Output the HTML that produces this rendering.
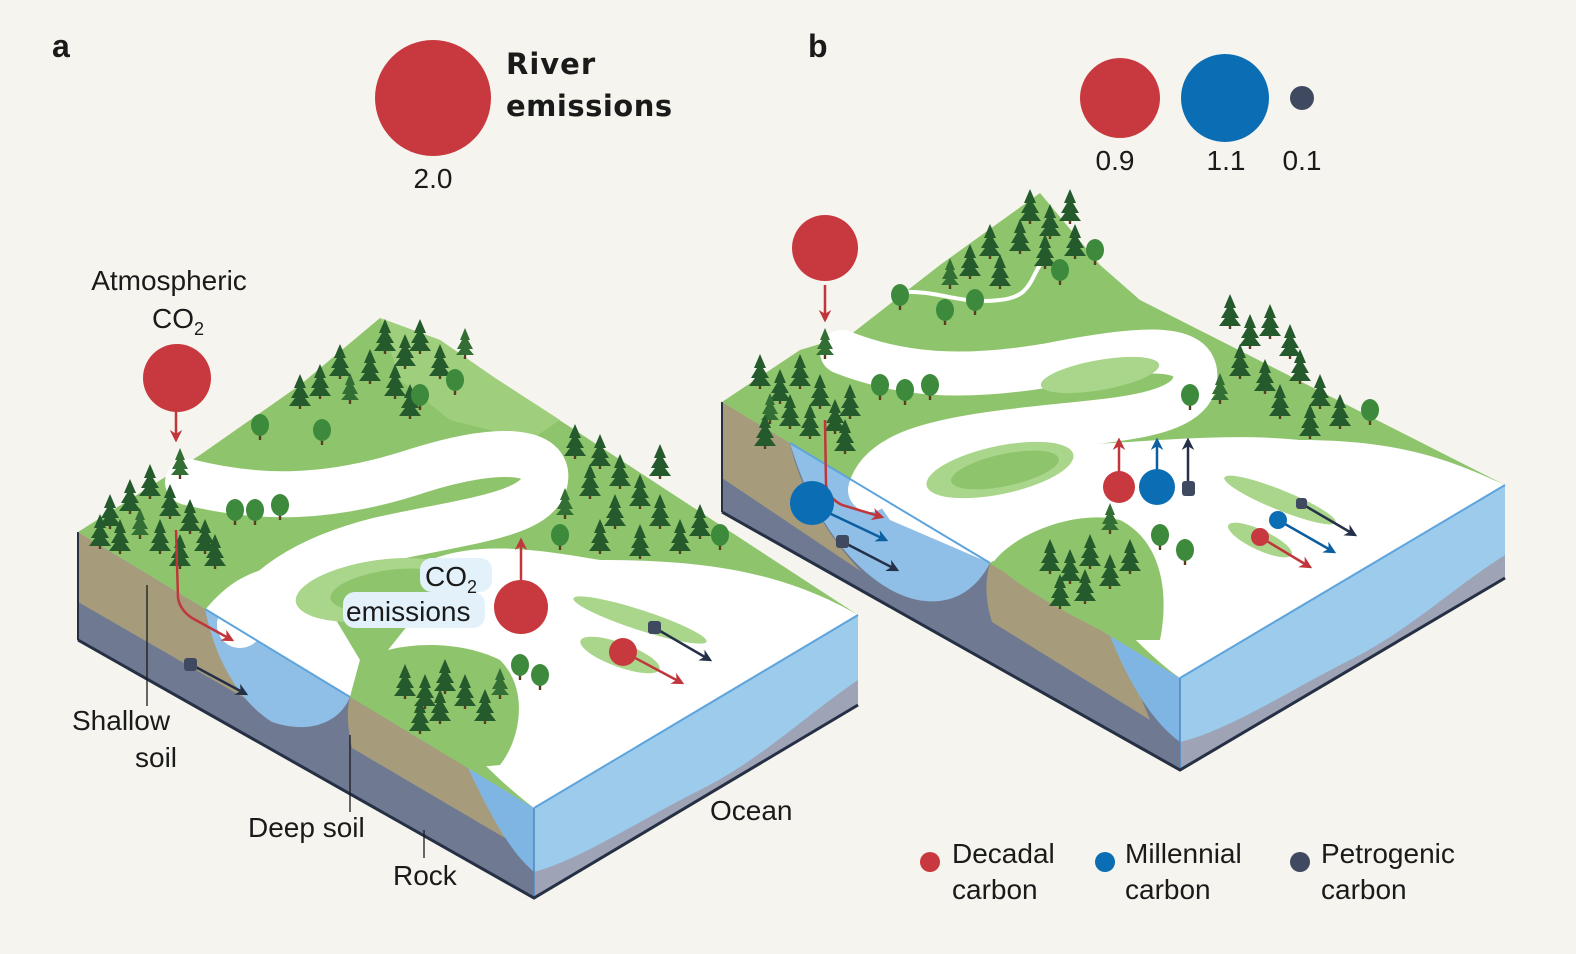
<!DOCTYPE html>
<html><head><meta charset="utf-8"><style>
html,body{margin:0;padding:0;background:#f5f4ee;}
svg{display:block;}
text{font-family:"Liberation Sans",sans-serif;fill:#1a1a1a;}
</style></head><body>
<svg width="1576" height="954" viewBox="0 0 1576 954" xmlns="http://www.w3.org/2000/svg">
<defs>
<g id="pine"><rect x="-1.2" y="0" width="2.4" height="9" fill="#5a3b22"/><polygon points="0,-26 -6,-12 -3,-12 -9,-2 -5,-2 -11,6 11,6 5,-2 9,-2 3,-12 6,-12" fill="#245a2c"/></g>
<g id="pine2"><rect x="-1.2" y="0" width="2.4" height="9" fill="#5a3b22"/><polygon points="0,-22 -5,-10 -3,-10 -8,-1 -4,-1 -9,5 9,5 4,-1 8,-1 3,-10 5,-10" fill="#336e34"/></g>
<g id="dec"><rect x="-1.2" y="0" width="2.4" height="10" fill="#5a3b22"/><ellipse cx="0" cy="-5" rx="9" ry="11" fill="#3d8a3c"/></g>
<marker id="ar" viewBox="0 0 10 10" refX="8" refY="5" markerWidth="5" markerHeight="5" orient="auto"><path d="M0,0 L10,5 L0,10 L3,5 Z" fill="#c0363b"/></marker>
<marker id="ab" viewBox="0 0 10 10" refX="8" refY="5" markerWidth="5" markerHeight="5" orient="auto"><path d="M0,0 L10,5 L0,10 L3,5 Z" fill="#0b5fa0"/></marker>
<marker id="ad" viewBox="0 0 10 10" refX="8" refY="5" markerWidth="5" markerHeight="5" orient="auto"><path d="M0,0 L10,5 L0,10 L3,5 Z" fill="#243048"/></marker>
</defs>

<!-- ============ BLOCK A ============ -->
<polygon points="78,532 534,808 534,898 78,640" fill="#6f7a92"/>
<path d="M78,532 L205,609 C215,660 240,690 262,708 L78,602 Z" fill="#a69c7c"/>
<path d="M205,609 L350,697 C340,722 310,735 272,722 C240,702 215,660 205,609 Z" fill="#8fbfe6"/>
<path d="M350,697 L468,768 C488,800 498,820 505,838 L352,748 C348,730 346,712 350,697 Z" fill="#a69c7c"/>
<path d="M468,768 L534,808 L534,872 C508,850 488,810 468,768 Z" fill="#7fb5e3"/>
<polygon points="534,808 858,615 858,705 534,898" fill="#9ccbec"/>
<path d="M534,872 C580,860 640,820 700,790 C760,760 800,720 858,680 L858,705 L534,898 Z" fill="#9ea3b6"/>
<line x1="534" y1="808" x2="534" y2="898" stroke="#4a86c2" stroke-width="1.5"/>
<polyline points="78,640 534,898 858,705" fill="none" stroke="#263044" stroke-width="3"/>
<line x1="78" y1="532" x2="78" y2="640" stroke="#263044" stroke-width="2"/>
<polygon points="78,532 200,455 300,385 380,318 440,340 495,378 858,615 534,808" fill="#8ec56c"/>
<path d="M380,318 L440,340 495,378 560,420 530,440 450,420 400,380 Z" fill="#9fcf7d"/>
<path d="M188,482 C260,500 330,500 420,470 C500,445 550,450 545,480 C540,515 470,520 380,540 C300,560 265,590 240,625" fill="none" stroke="#ffffff" stroke-width="46" stroke-linecap="round"/>
<path d="M430,560 C480,540 540,550 600,560 C700,560 780,570 858,615 L534,808 C510,790 490,770 480,760 C460,720 420,680 380,660 L420,610 Z" fill="#ffffff"/>
<path d="M205,610 C230,580 250,570 300,560 L360,660 L350,697 Z" fill="#ffffff"/>
<ellipse cx="380" cy="590" rx="85" ry="30" fill="#a9d68a" transform="rotate(-8 380 590)"/>
<ellipse cx="390" cy="590" rx="60" ry="20" fill="#8ec56c" transform="rotate(-8 390 590)"/>
<path d="M360,660 C400,640 460,640 500,660 C530,690 520,740 500,765 L468,768 L350,697 Z" fill="#8ec56c"/>
<ellipse cx="640" cy="620" rx="70" ry="10" fill="#a9d68a" transform="rotate(18 640 620)"/>
<ellipse cx="620" cy="655" rx="42" ry="12" fill="#a9d68a" transform="rotate(20 620 655)"/>
<line x1="534" y1="808" x2="858" y2="615" stroke="#5ea4dc" stroke-width="2"/>
<line x1="205" y1="609" x2="350" y2="697" stroke="#5ea4dc" stroke-width="2"/>
<!-- trees A -->
<use href="#pine" x="110" y="520"/><use href="#pine" x="130" y="505"/><use href="#pine" x="150" y="490"/><use href="#pine" x="170" y="510"/><use href="#pine" x="190" y="525"/><use href="#pine2" x="140" y="530"/><use href="#pine" x="160" y="545"/><use href="#pine" x="205" y="545"/><use href="#pine2" x="180" y="470"/><use href="#pine" x="120" y="545"/><use href="#pine" x="180" y="560"/><use href="#pine" x="215" y="560"/><use href="#pine" x="100" y="540"/><use href="#dec" x="235" y="515"/><use href="#dec" x="255" y="515"/><use href="#dec" x="280" y="510"/>
<use href="#pine" x="385" y="345"/><use href="#pine" x="405" y="360"/><use href="#pine" x="420" y="345"/><use href="#pine" x="370" y="375"/><use href="#pine" x="395" y="390"/><use href="#pine" x="440" y="370"/><use href="#pine2" x="350" y="395"/><use href="#pine" x="320" y="390"/><use href="#pine" x="300" y="400"/><use href="#pine" x="340" y="370"/><use href="#pine" x="410" y="410"/><use href="#dec" x="455" y="385"/><use href="#dec" x="420" y="400"/><use href="#dec" x="260" y="430"/><use href="#dec" x="322" y="435"/><use href="#pine2" x="465" y="350"/>
<use href="#pine" x="575" y="450"/><use href="#pine" x="600" y="460"/><use href="#pine" x="620" y="480"/><use href="#pine" x="590" y="490"/><use href="#pine" x="640" y="500"/><use href="#pine" x="660" y="520"/><use href="#pine" x="615" y="520"/><use href="#pine" x="680" y="545"/><use href="#pine" x="640" y="550"/><use href="#pine2" x="565" y="510"/><use href="#pine" x="700" y="530"/><use href="#pine" x="600" y="545"/><use href="#pine" x="660" y="470"/><use href="#dec" x="720" y="540"/><use href="#dec" x="560" y="540"/>
<use href="#pine" x="405" y="690"/><use href="#pine" x="425" y="700"/><use href="#pine" x="445" y="685"/><use href="#pine" x="465" y="700"/><use href="#pine" x="485" y="715"/><use href="#pine" x="440" y="715"/><use href="#pine" x="420" y="725"/><use href="#pine2" x="500" y="690"/><use href="#dec" x="520" y="670"/><use href="#dec" x="540" y="680"/>
<!-- arrows A -->
<path d="M176,530 L178,598 Q180,610 192,618 L232,640" fill="none" stroke="#c0363b" stroke-width="2.5" marker-end="url(#ar)"/>
<line x1="192" y1="665" x2="246" y2="694" stroke="#243048" stroke-width="2.5" marker-end="url(#ad)"/>
<rect x="184" y="658" width="13" height="13" rx="3" fill="#3f4a60"/>
<line x1="655" y1="628" x2="710" y2="660" stroke="#243048" stroke-width="2.5" marker-end="url(#ad)"/>
<rect x="648" y="621" width="13" height="13" rx="3" fill="#3f4a60"/>
<line x1="624" y1="652" x2="682" y2="683" stroke="#c0363b" stroke-width="2.5" marker-end="url(#ar)"/>
<circle cx="623" cy="652" r="14" fill="#c8393f"/>
<line x1="521" y1="580" x2="521" y2="540" stroke="#c0363b" stroke-width="2.5" marker-end="url(#ar)"/>
<circle cx="521" cy="607" r="27" fill="#c8393f"/>
<line x1="176" y1="405" x2="176" y2="440" stroke="#c0363b" stroke-width="2.5" marker-end="url(#ar)"/>
<circle cx="177" cy="378" r="34" fill="#c8393f"/>
<rect x="420" y="558" width="72" height="34" rx="12" fill="#e3f1fb"/>
<rect x="343" y="592" width="142" height="36" rx="12" fill="#e3f1fb"/>
<text x="425" y="586" font-size="28">CO<tspan font-size="18" dy="7">2</tspan></text>
<text x="346" y="621" font-size="28">emissions</text>

<!-- ============ BLOCK B ============ -->
<polygon points="722,402 1180,678 1180,770 722,512" fill="#6f7a92"/>
<path d="M722,402 L790,443 C800,490 830,540 862,572 L722,478 Z" fill="#a69c7c"/>
<path d="M790,443 L990,563 C975,592 950,606 918,600 C868,590 815,530 790,443 Z" fill="#8fbfe6"/>
<path d="M990,563 L1110,636 C1130,670 1140,695 1150,720 L992,622 C985,600 985,580 990,563 Z" fill="#a69c7c"/>
<path d="M1110,636 L1180,678 L1180,742 C1150,720 1128,680 1110,636 Z" fill="#7fb5e3"/>
<polygon points="1180,678 1505,485 1505,578 1180,770" fill="#9ccbec"/>
<path d="M1180,742 C1230,730 1290,690 1350,660 C1410,630 1450,590 1505,555 L1505,578 L1180,770 Z" fill="#9ea3b6"/>
<line x1="1180" y1="678" x2="1180" y2="770" stroke="#4a86c2" stroke-width="1.5"/>
<polyline points="722,512 1180,770 1505,578" fill="none" stroke="#263044" stroke-width="3"/>
<line x1="722" y1="402" x2="722" y2="512" stroke="#263044" stroke-width="2"/>
<polygon points="722,402 800,350 850,335 940,265 1040,193 1100,265 1140,300 1505,485 1180,678" fill="#8ec56c"/>
<path d="M842,352 C900,375 960,380 1050,365 C1150,345 1200,345 1195,380 C1190,420 1100,420 1020,430 C930,440 880,455 870,490" fill="none" stroke="#ffffff" stroke-width="44" stroke-linecap="round"/>
<path d="M850,480 C880,445 930,440 1000,445 C1100,450 1200,430 1300,440 C1400,440 1450,460 1505,485 L1180,678 C1140,650 1110,610 1070,575 C1030,560 1000,555 990,563 Z" fill="#ffffff"/>
<path d="M855,470 L990,563 L890,520 Z" fill="#ffffff"/>
<ellipse cx="1000" cy="470" rx="75" ry="24" fill="#a9d68a" transform="rotate(-12 1000 470)"/>
<ellipse cx="1005" cy="470" rx="55" ry="16" fill="#8ec56c" transform="rotate(-12 1005 470)"/>
<ellipse cx="1100" cy="375" rx="60" ry="15" fill="#a9d68a" transform="rotate(-10 1100 375)"/>
<path d="M995,560 C1020,530 1080,510 1120,520 C1160,540 1170,590 1160,640 L1120,640 C1080,620 1020,590 995,563 Z" fill="#8ec56c"/>
<ellipse cx="1280" cy="500" rx="60" ry="10" fill="#a9d68a" transform="rotate(22 1280 500)"/>
<ellipse cx="1260" cy="540" rx="35" ry="10" fill="#a9d68a" transform="rotate(25 1260 540)"/>
<path d="M900,292 C940,290 960,305 1000,300 C1030,297 1030,280 1040,265" fill="none" stroke="#ffffff" stroke-width="4"/>
<line x1="1180" y1="678" x2="1505" y2="485" stroke="#5ea4dc" stroke-width="2"/>
<line x1="790" y1="443" x2="990" y2="563" stroke="#5ea4dc" stroke-width="2"/>
<!-- trees B -->
<use href="#pine" x="760" y="380"/><use href="#pine" x="780" y="395"/><use href="#pine" x="800" y="380"/><use href="#pine" x="820" y="400"/><use href="#pine" x="790" y="420"/><use href="#pine" x="810" y="430"/><use href="#pine" x="835" y="425"/><use href="#pine2" x="770" y="415"/><use href="#pine" x="850" y="410"/><use href="#pine" x="765" y="440"/><use href="#pine" x="845" y="445"/><use href="#pine2" x="825" y="350"/><use href="#dec" x="880" y="390"/><use href="#dec" x="905" y="395"/><use href="#dec" x="930" y="390"/>
<use href="#pine" x="1030" y="215"/><use href="#pine" x="1050" y="230"/><use href="#pine" x="1070" y="215"/><use href="#pine" x="1020" y="245"/><use href="#pine" x="1045" y="260"/><use href="#pine" x="1075" y="250"/><use href="#pine" x="990" y="250"/><use href="#pine" x="970" y="270"/><use href="#pine2" x="950" y="280"/><use href="#pine" x="1000" y="280"/><use href="#dec" x="1095" y="255"/><use href="#dec" x="1060" y="275"/><use href="#dec" x="900" y="300"/><use href="#dec" x="945" y="315"/><use href="#dec" x="975" y="305"/>
<use href="#pine" x="1230" y="320"/><use href="#pine" x="1250" y="340"/><use href="#pine" x="1270" y="330"/><use href="#pine" x="1290" y="350"/><use href="#pine" x="1240" y="370"/><use href="#pine" x="1265" y="385"/><use href="#pine" x="1300" y="375"/><use href="#pine" x="1320" y="400"/><use href="#pine" x="1280" y="410"/><use href="#pine" x="1340" y="420"/><use href="#pine" x="1310" y="430"/><use href="#pine2" x="1220" y="395"/><use href="#dec" x="1370" y="415"/><use href="#dec" x="1190" y="400"/>
<use href="#pine" x="1050" y="565"/><use href="#pine" x="1070" y="575"/><use href="#pine" x="1090" y="560"/><use href="#pine" x="1110" y="580"/><use href="#pine" x="1130" y="565"/><use href="#pine" x="1085" y="595"/><use href="#pine" x="1060" y="600"/><use href="#pine2" x="1110" y="525"/><use href="#dec" x="1160" y="540"/><use href="#dec" x="1185" y="555"/>
<!-- arrows B -->
<path d="M825,420 L826,485 Q828,498 842,505 L882,517" fill="none" stroke="#c0363b" stroke-width="2.5" marker-end="url(#ar)"/>
<line x1="812" y1="505" x2="886" y2="540" stroke="#0b5fa0" stroke-width="2.5" marker-end="url(#ab)"/>
<circle cx="812" cy="503" r="22" fill="#0b6db4"/>
<line x1="843" y1="542" x2="897" y2="570" stroke="#243048" stroke-width="2.5" marker-end="url(#ad)"/>
<rect x="836" y="535" width="13" height="13" rx="3" fill="#3f4a60"/>
<line x1="825" y1="285" x2="825" y2="320" stroke="#c0363b" stroke-width="2.5" marker-end="url(#ar)"/>
<circle cx="825" cy="248" r="33" fill="#c8393f"/>
<line x1="1119" y1="475" x2="1119" y2="440" stroke="#c0363b" stroke-width="2.5" marker-end="url(#ar)"/>
<circle cx="1119" cy="487" r="16" fill="#c8393f"/>
<line x1="1157" y1="470" x2="1157" y2="440" stroke="#0b5fa0" stroke-width="2.5" marker-end="url(#ab)"/>
<circle cx="1157" cy="487" r="18" fill="#0b6db4"/>
<line x1="1188" y1="485" x2="1188" y2="440" stroke="#243048" stroke-width="2.5" marker-end="url(#ad)"/>
<rect x="1182" y="481" width="13" height="15" rx="3" fill="#3f4a60"/>
<line x1="1302" y1="504" x2="1355" y2="535" stroke="#243048" stroke-width="2.5" marker-end="url(#ad)"/>
<rect x="1296" y="498" width="11" height="11" rx="3" fill="#3f4a60"/>
<line x1="1278" y1="520" x2="1334" y2="552" stroke="#0b5fa0" stroke-width="2.5" marker-end="url(#ab)"/>
<circle cx="1278" cy="520" r="9" fill="#0b6db4"/>
<line x1="1260" y1="537" x2="1310" y2="567" stroke="#c0363b" stroke-width="2.5" marker-end="url(#ar)"/>
<circle cx="1260" cy="537" r="9" fill="#c8393f"/>

<!-- ============ LABELS ============ -->
<text x="52" y="57" font-family="Liberation Serif" font-weight="bold" font-size="32">a</text>
<text x="808" y="57" font-family="Liberation Serif" font-weight="bold" font-size="32">b</text>
<circle cx="433" cy="98" r="58" fill="#c8393f"/>
<text x="506" y="74" font-size="29" font-weight="bold" letter-spacing="1" style="font-family:'DejaVu Sans',sans-serif">River</text>
<text x="506" y="116" font-size="29" font-weight="bold" letter-spacing="0.5" style="font-family:'DejaVu Sans',sans-serif">emissions</text>
<text x="433" y="188" font-size="28" text-anchor="middle">2.0</text>
<circle cx="1120" cy="98" r="40" fill="#c8393f"/>
<circle cx="1225" cy="98" r="44" fill="#0b6db4"/>
<circle cx="1302" cy="98" r="12" fill="#3f4a60"/>
<text x="1115" y="170" font-size="28" text-anchor="middle">0.9</text>
<text x="1226" y="170" font-size="28" text-anchor="middle">1.1</text>
<text x="1302" y="170" font-size="28" text-anchor="middle">0.1</text>
<text x="169" y="290" font-size="28" text-anchor="middle">Atmospheric</text>
<text x="152" y="328" font-size="28">CO<tspan font-size="18" dy="7">2</tspan></text>
<text x="72" y="730" font-size="28">Shallow</text>
<text x="135" y="767" font-size="28">soil</text>
<line x1="147" y1="585" x2="147" y2="706" stroke="#1a1a1a" stroke-width="1.3"/>
<text x="248" y="837" font-size="28">Deep soil</text>
<line x1="350" y1="735" x2="350" y2="812" stroke="#1a1a1a" stroke-width="1.3"/>
<text x="393" y="885" font-size="28">Rock</text>
<line x1="424" y1="830" x2="424" y2="858" stroke="#1a1a1a" stroke-width="1.3"/>
<text x="710" y="820" font-size="28">Ocean</text>
<circle cx="930" cy="862" r="10" fill="#c8393f"/>
<text x="952" y="863" font-size="28">Decadal</text><text x="952" y="899" font-size="28">carbon</text>
<circle cx="1105" cy="862" r="10" fill="#0b6db4"/>
<text x="1125" y="863" font-size="28">Millennial</text><text x="1125" y="899" font-size="28">carbon</text>
<circle cx="1300" cy="862" r="10" fill="#3f4a60"/>
<text x="1321" y="863" font-size="28">Petrogenic</text><text x="1321" y="899" font-size="28">carbon</text>
</svg>
</body></html>
